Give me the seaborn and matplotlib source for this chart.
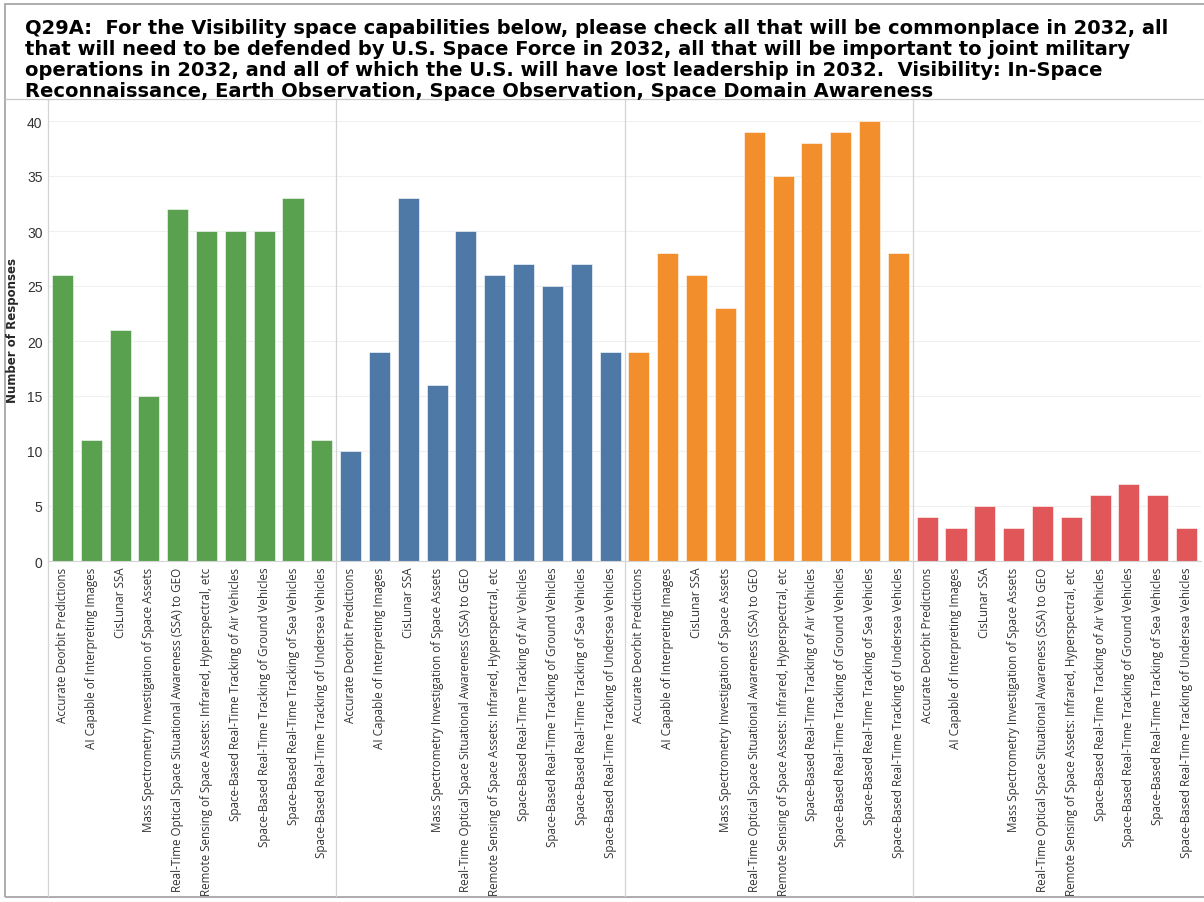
"""Q29A Visibility capabilities: grouped response counts drawn as four panels."""
import matplotlib

matplotlib.use("Agg")
import matplotlib.pyplot as plt
import pandas as pd
import seaborn as sns
from matplotlib.lines import Line2D
from matplotlib.patches import Rectangle

CAPABILITIES = [
    "Accurate Deorbit Predictions",
    "AI Capable of Interpreting Images",
    "CisLunar SSA",
    "Mass Spectrometry Investigation of Space Assets",
    "Real-Time Optical Space Situational Awareness (SSA) to GEO",
    "Remote Sensing of Space Assets: Infrared, Hyperspectral, etc",
    "Space-Based Real-Time Tracking of Air Vehicles",
    "Space-Based Real-Time Tracking of Ground Vehicles",
    "Space-Based Real-Time Tracking of Sea Vehicles",
    "Space-Based Real-Time Tracking of Undersea Vehicles",
]
GROUPS = ["Commonplace", "Defended by USSF", "Important to Joint Ops", "Lost Leadership"]
COMMONPLACE = [26, 11, 21, 15, 32, 30, 30, 30, 33, 11]
DEFENDED = [10, 19, 33, 16, 30, 26, 27, 25, 27, 19]
JOINT_OPS = [19, 28, 26, 23, 39, 35, 38, 39, 40, 28]
LOST_LEADERSHIP = [4, 3, 5, 3, 5, 4, 6, 7, 6, 3]
COLORS = ["#59a14f", "#4e79a7", "#f28e2b", "#e15759"]
Y_TICKS = [0, 5, 10, 15, 20, 25, 30, 35, 40]

TITLE = (
    "Q29A:  For the Visibility space capabilities below, please check all that will be commonplace in 2032, all\n"
    "that will need to be defended by U.S. Space Force in 2032, all that will be important to joint military\n"
    "operations in 2032, and all of which the U.S. will have lost leadership in 2032.  Visibility: In-Space\n"
    "Reconnaissance, Earth Observation, Space Observation, Space Domain Awareness"
)

W, H = 1204, 903
LEFT, RIGHT, TOP, BOTTOM = 48, 1201, 100, 562
GRID = "#d4d4d4"


def fx(px):
    return px / W


def fy(py):
    return 1 - py / H


def main():
    sns.set_theme(style="white")
    plt.rcParams["font.family"] = ["Liberation Sans", "DejaVu Sans"]

    rows = []
    for group, values in zip(GROUPS, [COMMONPLACE, DEFENDED, JOINT_OPS, LOST_LEADERSHIP]):
        for cap, v in zip(CAPABILITIES, values):
            rows.append({"group": group, "capability": cap, "responses": v})
    df = pd.DataFrame(rows)

    fig, axes = plt.subplots(1, 4, figsize=(W / 100, H / 100), dpi=100, sharey=True,
                             gridspec_kw={"wspace": 0})
    fig.subplots_adjust(left=fx(LEFT), right=fx(RIGHT), top=fy(TOP), bottom=fy(BOTTOM))

    for ax, group, color in zip(axes, GROUPS, COLORS):
        sub = df[df["group"] == group]
        sns.barplot(data=sub, x="capability", y="responses", order=CAPABILITIES,
                    color=color, width=0.73, saturation=1, ax=ax,
                    edgecolor="white", linewidth=0.4)
        ax.set_xlim(-0.5, len(CAPABILITIES) - 0.5)
        ax.set_ylim(0, 42)
        ax.set_xlabel("")
        ax.set_ylabel("")
        ax.set_yticks(Y_TICKS)
        for y in Y_TICKS[1:]:
            ax.axhline(y, color="#f0f0f0", linewidth=0.8, zorder=0)
        ax.tick_params(axis="x", length=0, pad=4)
        ax.tick_params(axis="y", length=0, pad=4, labelsize=10, labelcolor="#333333")
        ax.set_xticks(range(len(CAPABILITIES)))
        ax.set_xticklabels(CAPABILITIES, rotation=90, ha="center", va="top",
                           fontsize=8.4, family=["Open Sans", "DejaVu Sans"],
                           color="#333333")
        for side in ["top", "right", "left"]:
            ax.spines[side].set_visible(False)
        ax.spines["bottom"].set_color(GRID)
        ax.spines["bottom"].set_linewidth(0.8)
        ax.set_axisbelow(True)

    # panel separators running through the label area
    for i in range(4):
        x = fx(LEFT + i * (RIGHT - LEFT) / 4)
        fig.add_artist(Line2D([x, x], [fy(TOP), fy(897)], color=GRID, linewidth=0.9))
    fig.add_artist(Line2D([fx(5), 1], [fy(TOP), fy(TOP)], color="#c8c8c8", linewidth=0.9))

    # outer frame
    fig.add_artist(Rectangle((fx(5), fy(898)), 1.0, fy(5) - fy(898), fill=False,
                             edgecolor="#a0a0a0", linewidth=1.2))

    fig.text(fx(25), fy(19), TITLE, ha="left", va="top", fontsize=14,
             fontweight="bold", family=["DejaVu Sans"], linespacing=1.13,
             color="black")
    fig.text(fx(13), fy((TOP + BOTTOM) / 2), "Number of Responses", rotation=90,
             ha="center", va="center", fontsize=8.5, fontweight="bold",
             family=["DejaVu Sans"])

    fig.savefig("out.png", dpi=100)
    plt.close(fig)


if __name__ == "__main__":
    main()
